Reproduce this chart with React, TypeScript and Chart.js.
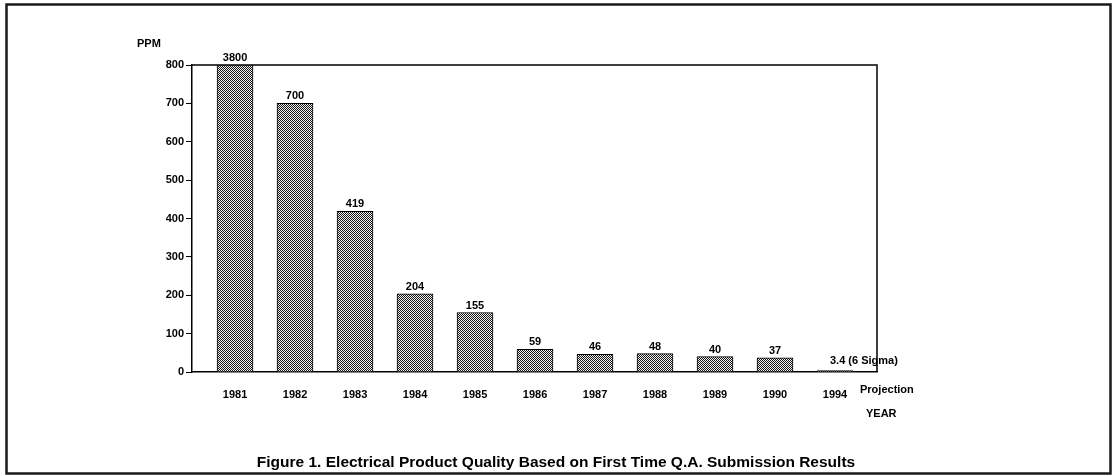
import React, { useEffect, useRef } from "react";
import { Chart, registerables } from "chart.js";

Chart.register(...registerables);

const years: string[] = ["1981", "1982", "1983", "1984", "1985", "1986", "1987", "1988", "1989", "1990", "1994"];
const ppmValues: number[] = [3800, 700, 419, 204, 155, 59, 46, 48, 40, 37, 3.4];
const valueLabels: string[] = ["3800", "700", "419", "204", "155", "59", "46", "48", "40", "37", "3.4 (6 Sigma)"];
const yTicks: number[] = [0, 100, 200, 300, 400, 500, 600, 700, 800];
const yAxisTitle = "PPM";
const projectionLabel = "Projection";
const xAxisTitle = "YEAR";
const caption = "Figure 1. Electrical Product Quality Based on First Time Q.A. Submission Results";

const FONT = "'Liberation Sans', Arial, sans-serif";

function makePattern(): CanvasPattern | string {
  const c = document.createElement("canvas");
  c.width = 2;
  c.height = 2;
  const g = c.getContext("2d");
  if (!g) return "#777";
  g.fillStyle = "#f4f4f4";
  g.fillRect(0, 0, 2, 2);
  g.fillStyle = "#151515";
  g.fillRect(0, 0, 1, 1);
  g.fillRect(1, 1, 1, 1);
  const p = g.createPattern(c, "repeat");
  return p || "#777";
}

const decorPlugin = {
  id: "decor",
  afterDraw(chart: any) {
    const { ctx, chartArea: a } = chart;
    ctx.save();
    // plot box top & right
    ctx.strokeStyle = "#000";
    ctx.lineWidth = 1.5;
    ctx.beginPath();
    ctx.moveTo(a.left, a.top);
    ctx.lineTo(a.right, a.top);
    ctx.lineTo(a.right, a.bottom);
    ctx.stroke();

    // outer frame
    ctx.lineWidth = 2.5;
    ctx.strokeStyle = "#1a1a1a";
    ctx.strokeRect(6.5, 4.5, 1104, 469);

    // value labels
    const meta = chart.getDatasetMeta(0);
    ctx.fillStyle = "#000";
    ctx.font = `bold 11px ${FONT}`;
    ctx.textBaseline = "alphabetic";
    meta.data.forEach((bar: any, i: number) => {
      const topY = Math.max(bar.y, a.top);
      if (i === valueLabels.length - 1) {
        ctx.textAlign = "left";
        ctx.fillText(valueLabels[i], bar.x - 5, topY - 7);
      } else {
        ctx.textAlign = "center";
        ctx.fillText(valueLabels[i], bar.x, topY - 4);
      }
    });

    // axis titles
    ctx.textAlign = "left";
    ctx.fillText(yAxisTitle, 137, 47);
    ctx.fillText(projectionLabel, 860, 393);
    ctx.fillText(xAxisTitle, 866, 417);

    // caption
    ctx.font = `bold 15.5px ${FONT}`;
    ctx.textAlign = "center";
    ctx.fillText(caption, 556, 467);
    ctx.restore();
  },
};

export default function App() {
  const ref = useRef<HTMLCanvasElement | null>(null);

  useEffect(() => {
    if (!ref.current) return;
    const pattern = makePattern();
    const chart = new Chart(ref.current, {
      type: "bar",
      data: {
        datasets: [
          {
            data: years.map((_, i) => ({ x: i, y: ppmValues[i] })),
            backgroundColor: pattern as any,
            borderColor: "#000",
            borderWidth: 1,
            barThickness: 36,
          },
        ],
      },
      options: {
        responsive: false,
        animation: false,
        layout: { padding: { left: 152, top: 65, right: 240, bottom: 73 } },
        plugins: {
          legend: { display: false },
          tooltip: { enabled: false },
        },
        scales: {
          x: {
            type: "linear",
            offset: false,
            min: -0.717,
            max: 10.7,
            grid: { display: false },
            border: { display: true, color: "#000", width: 1.5 },
            afterBuildTicks: (scale: any) => {
              scale.ticks = years.map((_, i) => ({ value: i }));
            },
            afterFit: (scale: any) => {
              scale.height = 30;
            },
            ticks: {
              autoSkip: false,
              maxRotation: 0,
              padding: 8,
              color: "#000",
              font: { family: FONT, size: 11, weight: "bold" },
              callback: (v: any) => years[Number(v)] ?? "",
            },
          },
          y: {
            min: 0,
            max: 800,
            afterBuildTicks: (scale: any) => {
              scale.ticks = yTicks.map((v) => ({ value: v }));
            },
            afterFit: (scale: any) => {
              scale.width = 40;
            },
            grid: { drawOnChartArea: false, drawTicks: true, tickLength: 6, color: "#000", lineWidth: 1 },
            border: { display: true, color: "#000", width: 1.5 },
            ticks: {
              padding: 2,
              color: "#000",
              font: { family: FONT, size: 11, weight: "bold" },
            },
          },
        },
      },
      plugins: [decorPlugin],
    });
    return () => chart.destroy();
  }, []);

  return (
    <div style={{ position: "absolute", left: 0, top: 0, width: 1117, height: 475, background: "#fff" }}>
      <canvas ref={ref} width={1117} height={475} style={{ display: "block" }} />
    </div>
  );
}
